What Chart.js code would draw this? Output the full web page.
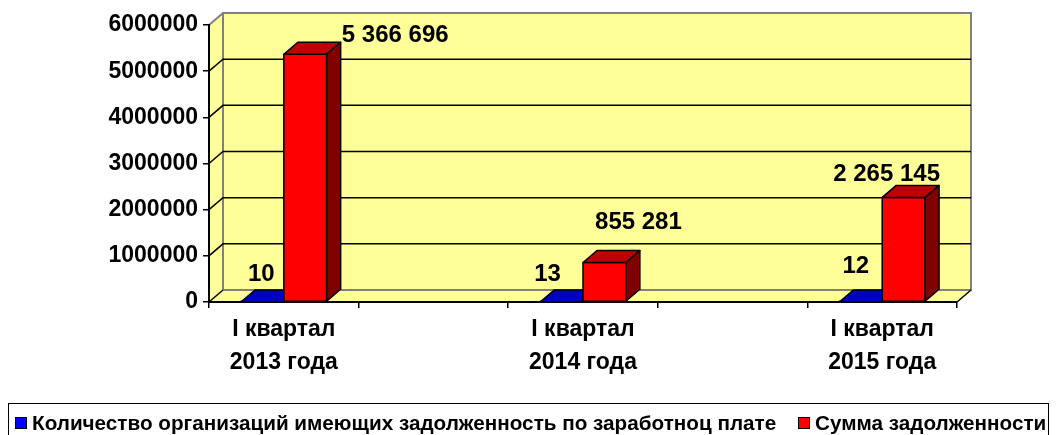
<!DOCTYPE html>
<html>
<head>
<meta charset="utf-8">
<script src="https://cdn.jsdelivr.net/npm/chart.js@4.4.1/dist/chart.umd.min.js"></script>
<style>
  html, body { margin: 0; padding: 0; background: #fff; }
  #wrap { position: relative; width: 1056px; height: 435px; }
  #legend {
    position: absolute; left: 8px; top: 403px; width: 1041px; height: 40px;
    border: 1px solid #000; box-sizing: border-box; overflow: hidden;
    font: bold 20.7px "Liberation Sans", Arial, sans-serif; color: #000;
    white-space: nowrap;
  }
  #legend span.item { position: absolute; top: 7px; }
  #legend i { display: inline-block; width: 10px; height: 10px; border: 1px solid #000; margin-right: 5px; vertical-align: 1px; }
</style>
</head>
<body>
<div id="wrap">
  <canvas id="chart" width="1056" height="435"></canvas>
  <div id="legend">
    <span class="item" style="left:6px"><i style="background:#0000ff"></i>Количество организаций имеющих задолженность по заработноц плате</span>
    <span class="item" style="left:789px"><i style="background:#ff0000"></i>Сумма задолженности</span>
  </div>
</div>
<script>
// categories 2 and 4 are empty slots, like in the original sheet
const categories = [["I квартал", "2013 года"], "", ["I квартал", "2014 года"], "", ["I квартал", "2015 года"]];
const orgCounts = [10, null, 13, null, 12];
const debtSums = [5366696, null, 855281, null, 2265145];
const yMax = 6000000;
const yStep = 1000000;

// 3d depth of the bars / walls
const DX = 14, DY = -12;
// hand placed label offsets (like the excel original)
const labelShift = [
  [[-1, -28], null, [-14, -28], null, [-5, -36]],
  [[90, -19], null, [34, -40], null, [-17, -23]]
];
const faceColors = [
  { front: "#0000ff", top: "#0000c0", side: "#000080" },
  { front: "#ff0000", top: "#c00000", side: "#800000" }
];

const FONT = "'Liberation Sans', Arial, sans-serif";

function fmt(v) {
  return String(v).replace(/\B(?=(\d{3})+(?!\d))/g, " ");
}

function poly(ctx, pts, fill, stroke, lw) {
  ctx.beginPath();
  ctx.moveTo(pts[0][0], pts[0][1]);
  for (let i = 1; i < pts.length; i++) ctx.lineTo(pts[i][0], pts[i][1]);
  ctx.closePath();
  if (fill) { ctx.fillStyle = fill; ctx.fill(); }
  if (stroke) { ctx.strokeStyle = stroke; ctx.lineWidth = lw || 1; ctx.stroke(); }
}

const walls = {
  id: "walls",
  beforeDraw(chart) {
    const { ctx, chartArea: a, scales } = chart;
    const y = scales.y;
    ctx.save();
    // left side wall
    poly(ctx, [[a.left, a.bottom], [a.left, a.top], [a.left + DX, a.top + DY], [a.left + DX, a.bottom + DY]], "#ffff99");
    // back wall
    poly(ctx, [[a.left + DX, a.top + DY], [a.right + DX, a.top + DY], [a.right + DX, a.bottom + DY], [a.left + DX, a.bottom + DY]], "#ffff99", "#808080", 2);
    // floor
    poly(ctx, [[a.left, a.bottom], [a.right, a.bottom], [a.right + DX, a.bottom + DY], [a.left + DX, a.bottom + DY]], "#ffff99");
    // grid on back wall + diagonals on side wall
    ctx.strokeStyle = "#000";
    ctx.lineWidth = 1.5;
    for (let v = yStep; v < yMax; v += yStep) {
      const py = y.getPixelForValue(v);
      ctx.beginPath();
      ctx.moveTo(a.left, py);
      ctx.lineTo(a.left + DX, py + DY);
      ctx.lineTo(a.right + DX, py + DY);
      ctx.stroke();
    }
    // top edge of side wall + floor edges
    ctx.strokeStyle = "#808080";
    ctx.lineWidth = 2;
    ctx.beginPath();
    ctx.moveTo(a.left, a.top);
    ctx.lineTo(a.left + DX, a.top + DY);
    ctx.stroke();
    ctx.beginPath();
    ctx.moveTo(a.left + DX, a.bottom + DY);
    ctx.lineTo(a.right + DX, a.bottom + DY);
    ctx.stroke();
    ctx.strokeStyle = "#000";
    ctx.lineWidth = 1.5;
    ctx.beginPath();
    ctx.moveTo(a.left, a.bottom);
    ctx.lineTo(a.left + DX, a.bottom + DY);
    ctx.moveTo(a.right, a.bottom);
    ctx.lineTo(a.right + DX, a.bottom + DY);
    ctx.stroke();
    ctx.restore();
  },
  afterDatasetsDraw(chart) {
    const ctx = chart.ctx;
    ctx.save();
    ctx.lineJoin = "round";
    for (let i = 0; i < categories.length; i++) {
      chart.data.datasets.forEach((ds, d) => {
        const el = chart.getDatasetMeta(d).data[i];
        if (!el || ds.data[i] == null) return;
        const { x, y, base, width } = el.getProps(["x", "y", "base", "width"], true);
        const L = x - width / 2, R = x + width / 2;
        const c = faceColors[d];
        poly(ctx, [[L, y], [R, y], [R, base], [L, base]], c.front, "#000", 1.5);
        poly(ctx, [[L, y], [R, y], [R + DX, y + DY], [L + DX, y + DY]], c.top, "#000", 1.5);
        poly(ctx, [[R, y], [R + DX, y + DY], [R + DX, base + DY], [R, base]], c.side, "#000", 1.5);
      });
    }
    // value labels
    ctx.font = "bold 24px " + FONT;
    ctx.fillStyle = "#000";
    ctx.textAlign = "center";
    ctx.textBaseline = "middle";
    chart.data.datasets.forEach((ds, d) => {
      chart.getDatasetMeta(d).data.forEach((el, i) => {
        if (ds.data[i] == null) return;
        const off = labelShift[d][i];
        ctx.fillText(fmt(ds.data[i]), el.x + off[0], el.y + off[1]);
      });
    });
    ctx.restore();
  }
};

new Chart(document.getElementById("chart"), {
  type: "bar",
  data: {
    labels: categories,
    datasets: [
      { label: "Количество организаций имеющих задолженность по заработноц плате", data: orgCounts, backgroundColor: "#0000ff" },
      { label: "Сумма задолженности", data: debtSums, backgroundColor: "#ff0000" }
    ]
  },
  options: {
    responsive: false,
    animation: false,
    events: [],
    layout: { padding: { top: 25, right: 99, left: 0, bottom: 0 } },
    datasets: { bar: { categoryPercentage: 0.573, barPercentage: 1, borderWidth: 0 } },
    plugins: { legend: { display: false }, tooltip: { enabled: false } },
    scales: {
      x: {
        afterFit: s => { s.height = 133; },
        grid: { drawOnChartArea: false, tickLength: 6, color: "#000", lineWidth: 1.5 },
        border: { display: true, color: "#000", width: 2 },
        ticks: {
          autoSkip: false, maxRotation: 0, color: "#000", padding: 5,
          font: { family: FONT, size: 23, weight: "bold", lineHeight: 1.43 }
        }
      },
      y: {
        min: 0, max: yMax,
        afterFit: s => { s.width = 209; },
        grid: { drawOnChartArea: false, tickLength: 6, color: "#000", lineWidth: 1.5 },
        border: { display: true, color: "#000", width: 2 },
        ticks: {
          stepSize: yStep, color: "#000", padding: 5,
          font: { family: FONT, size: 23, weight: "bold" },
          callback: v => String(v)
        }
      }
    }
  },
  plugins: [walls]
});
</script>
</body>
</html>
